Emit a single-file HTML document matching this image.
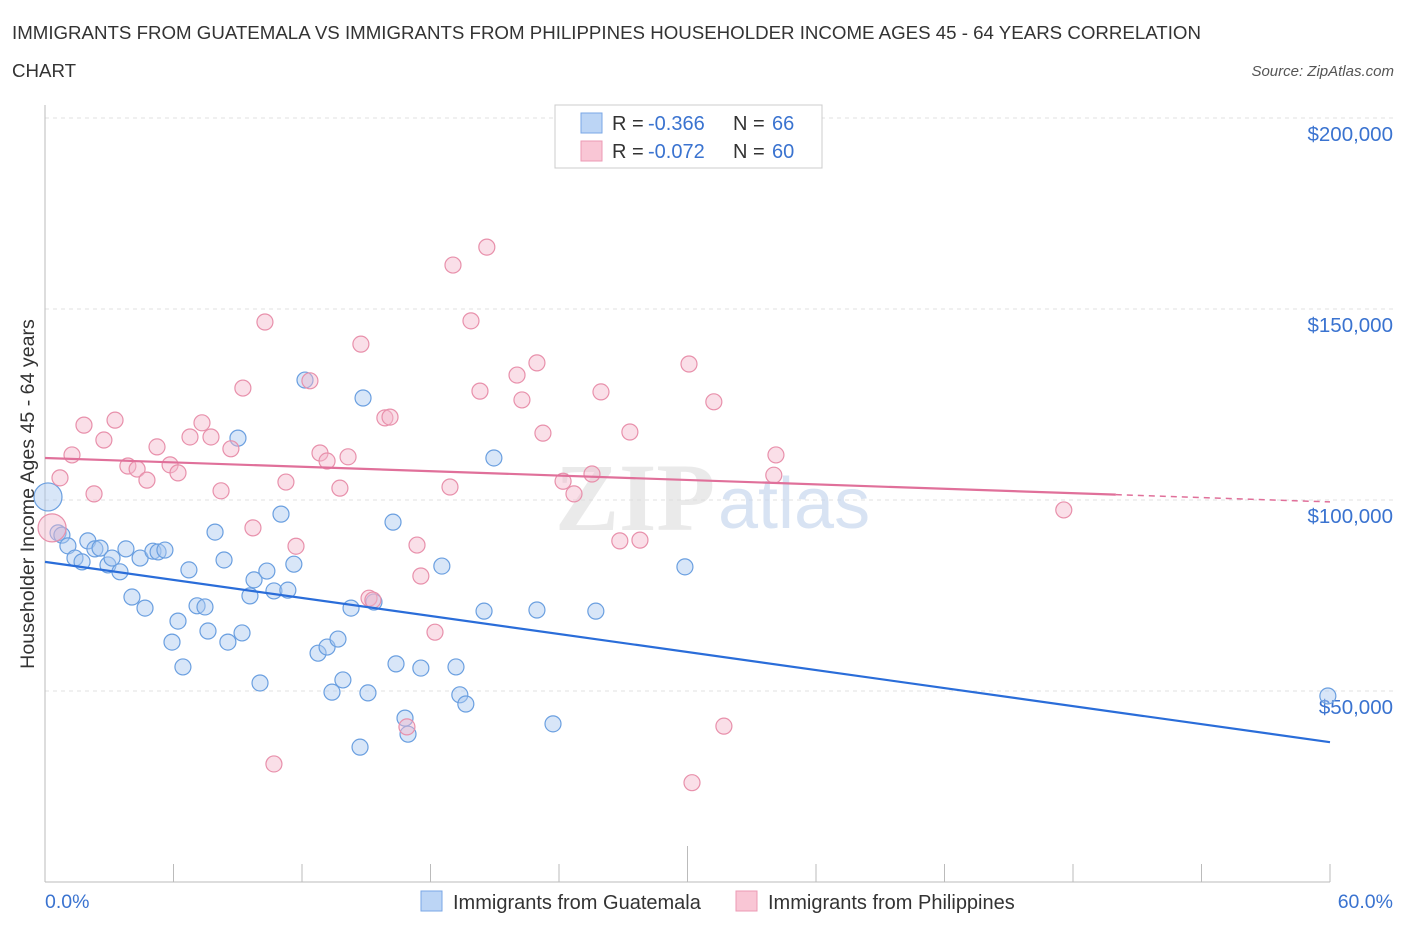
<!DOCTYPE html>
<html><head><meta charset="utf-8"><style>
body{margin:0;background:#fff;font-family:"Liberation Sans",sans-serif;}
</style></head><body>
<svg width="1406" height="930" viewBox="0 0 1406 930" xmlns="http://www.w3.org/2000/svg">
<text x="12" y="39" font-size="18.7" fill="#333">IMMIGRANTS FROM GUATEMALA VS IMMIGRANTS FROM PHILIPPINES HOUSEHOLDER INCOME AGES 45 - 64 YEARS CORRELATION</text>
<text x="12" y="77" font-size="18.7" fill="#333">CHART</text>
<text x="1394" y="76" font-size="15" fill="#555" font-style="italic" text-anchor="end">Source: ZipAtlas.com</text>
<g id="grid"></g>
<text x="555" y="530" font-size="96" fill="#ddd" font-family="Liberation Serif" font-weight="bold" opacity="0.6">ZIP</text>
<text x="718" y="528" font-size="72" fill="#c8d8ee" opacity="0.7">atlas</text>
<g id="marks"></g>
<text transform="translate(34,494) rotate(-90)" font-size="19.6" fill="#333" text-anchor="middle">Householder Income Ages 45 - 64 years</text>
<text x="45" y="908" font-size="19.5" fill="#3a73d0">0.0%</text>
<text x="1393" y="908" font-size="19.5" fill="#3a73d0" text-anchor="end">60.0%</text>
<g>
<rect x="555" y="105" width="267" height="63" fill="#fff" stroke="#ccc"/>
<rect x="581" y="113" width="21" height="20" fill="#bcd5f5" stroke="#7aa7e6"/>
<rect x="581" y="141" width="21" height="20" fill="#f9c6d5" stroke="#ec9ab4"/>
<text x="612" y="130" font-size="20" fill="#333">R = </text><text x="648" y="130" font-size="20" fill="#3a73d0">-0.366</text>
<text x="733" y="130" font-size="20" fill="#333">N = </text><text x="772" y="130" font-size="20" fill="#3a73d0">66</text>
<text x="612" y="158" font-size="20" fill="#333">R = </text><text x="648" y="158" font-size="20" fill="#3a73d0">-0.072</text>
<text x="733" y="158" font-size="20" fill="#333">N = </text><text x="772" y="158" font-size="20" fill="#3a73d0">60</text>
</g>
<g>
<rect x="421" y="891" width="21" height="20" fill="#bcd5f5" stroke="#7aa7e6"/>
<text x="453" y="909" font-size="20" fill="#333">Immigrants from Guatemala</text>
<rect x="736" y="891" width="21" height="20" fill="#f9c6d5" stroke="#ec9ab4"/>
<text x="768" y="909" font-size="20" fill="#333">Immigrants from Philippines</text>
</g>
</svg>
<script>
const yTicks=[50000,100000,150000,200000];
const yTickLabels=["$50,000","$100,000","$150,000","$200,000"];
const xTicks=[0,6,12,18,24,30,36,42,48,54,60];
const blueX=[0.14,0.61,0.79,1.07,1.4,1.73,2.0,2.33,2.57,2.94,3.13,3.5,3.78,4.06,4.44,4.67,5.04,5.28,5.6,5.93,6.21,6.44,6.72,7.1,7.47,7.61,7.94,8.36,8.54,9.01,9.2,9.57,9.76,10.04,10.36,10.69,11.02,11.34,11.62,12.14,12.75,13.17,13.4,13.68,13.91,14.29,14.71,14.85,15.08,15.36,16.25,16.39,16.81,16.95,17.55,18.53,19.19,19.37,19.65,20.5,20.96,22.97,23.72,25.72,29.88,59.9];
const blueY=[100.8,91.4,90.8,88,84.8,83.8,89.3,87.2,87.4,83,84.8,81.2,87.2,74.6,84.8,71.7,86.6,86.4,86.9,62.8,68.3,56.3,81.7,72.3,72,65.7,91.6,84.3,62.8,116.2,65.2,74.9,79.1,52.1,81.4,76.2,96.3,76.4,83.2,131.4,59.9,61.5,49.7,63.6,52.9,71.7,35.3,126.7,49.5,73.3,94.2,57.1,42.9,38.7,56,82.7,56.3,49,46.6,70.9,111,71.2,41.4,70.9,82.5,48.7];
const pinkX=[0.33,0.7,1.26,1.82,2.29,2.75,3.27,3.87,4.3,4.76,5.23,5.84,6.21,6.77,7.33,7.75,8.22,8.68,9.24,9.71,10.27,10.69,11.25,11.72,12.37,12.84,13.17,13.77,14.15,14.75,15.13,15.31,15.87,16.11,16.9,17.37,17.55,18.21,18.91,19.05,19.89,20.31,20.63,22.04,22.27,22.97,23.25,24.19,24.7,25.54,25.96,26.84,27.31,27.78,30.07,30.21,31.23,31.7,34.03,34.13,47.57];
const pinkY=[92.7,105.8,111.8,119.6,101.6,115.7,120.9,108.9,108.1,105.2,113.9,109.2,107.1,116.5,120.2,116.5,102.4,113.4,129.3,92.7,146.6,30.9,104.7,87.9,131.2,112.3,110.2,103.1,111.3,140.8,74.3,73.8,121.5,121.7,40.6,88.2,80.1,65.4,103.4,161.5,146.9,128.5,166.2,132.7,126.2,135.9,117.5,104.9,101.6,106.8,128.3,89.3,117.8,89.5,135.6,26,125.7,40.8,106.5,111.8,97.4];
const blueTrend=[[0,83.8],[60,36.6]];
const pinkTrend=[[0,111],[50,101.4],[60,99.5]];
const X=v=>45+v*(1285/60), Y=v=>882-v*(191/50);
const NS='http://www.w3.org/2000/svg';
function mk(t,a,p){const e=document.createElementNS(NS,t);for(const k in a)e.setAttribute(k,a[k]);p.appendChild(e);return e;}
const g=document.getElementById('grid'),m=document.getElementById('marks');
yTicks.forEach((t,i)=>{const l=mk('line',{x1:45,x2:1395,y1:Y(t*0.001),y2:Y(t*0.001),stroke:'#e2e2e2','stroke-dasharray':'4,4'},g);


const tx=mk('text',{x:1393,y:Y(t*0.001)+23,'font-size':20.5,fill:'#3a73d0','text-anchor':'end'},g);tx.textContent=yTickLabels[i];

});
const ax=mk('line',{x1:45,x2:45,y1:105,y2:882,stroke:'#bbb'},g);


const bx=mk('line',{x1:45,x2:1330,y1:882,y2:882,stroke:'#bbb'},g);


xTicks.forEach(t=>{const l=mk('line',{x1:X(t),x2:X(t),y1:t==30?846:864,y2:882,stroke:'#bbb'},g);

});
function pts(xs,ys,fill,stroke,name){xs.forEach((x,i)=>{const big=i==0;const c=mk('circle',{cx:X(x),cy:Y(ys[i]),r:big?14:8,fill:fill,'fill-opacity':0.45,stroke:stroke,'stroke-width':1.2},m);

});}
pts(blueX,blueY,'#a8c8f0','#6a9fe0','guatemala-point');
pts(pinkX,pinkY,'#f5b8cb','#e890ab','philippines-point');
const bl=mk('line',{x1:X(blueTrend[0][0]),y1:Y(blueTrend[0][1]),x2:X(blueTrend[1][0]),y2:Y(blueTrend[1][1]),stroke:'#2a6dd9','stroke-width':2.2},m);


const pl=mk('line',{x1:X(pinkTrend[0][0]),y1:Y(pinkTrend[0][1]),x2:X(pinkTrend[1][0]),y2:Y(pinkTrend[1][1]),stroke:'#e0709a','stroke-width':2.2},m);


const pd=mk('line',{x1:X(pinkTrend[1][0]),y1:Y(pinkTrend[1][1]),x2:X(pinkTrend[2][0]),y2:Y(pinkTrend[2][1]),stroke:'#e0709a','stroke-width':1.5,'stroke-dasharray':'6,5'},m);


</script>
</body></html>
